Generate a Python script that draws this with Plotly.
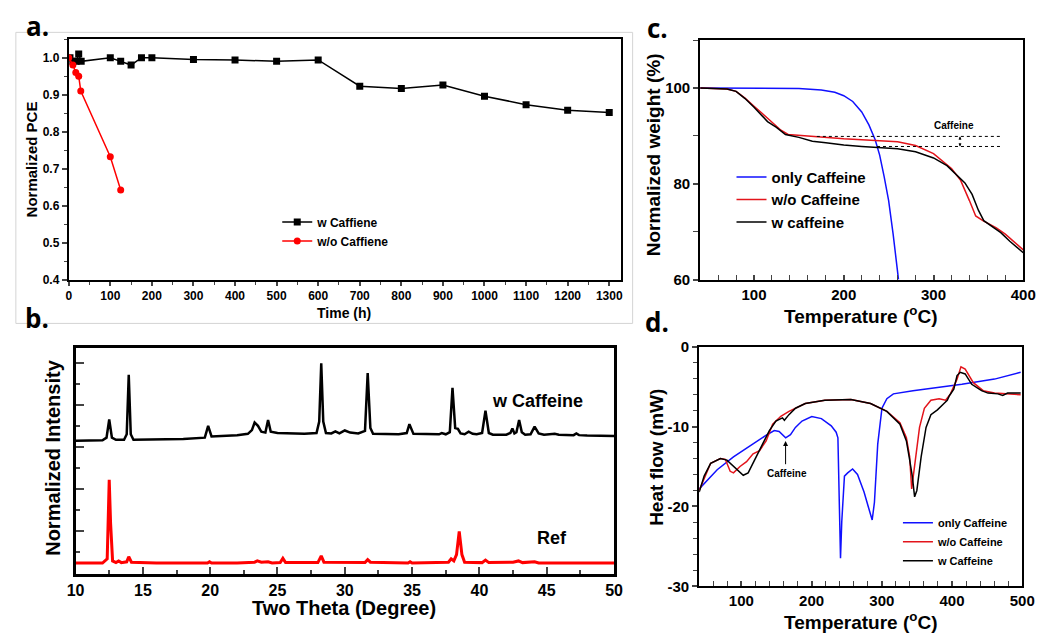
import plotly.graph_objects as go

W, H = 1048, 640
FONT = "Liberation Sans"

# ---------------- Panel a data ----------------
time_w = [3, 10, 18, 24, 30, 100, 125, 150, 175, 200, 300, 400, 500, 600, 700, 800, 900, 1000, 1100, 1200, 1300]
pce_w = [1.0, 0.99, 0.99, 1.01, 0.99, 1.0, 0.99, 0.98, 1.0, 1.0, 0.995, 0.994, 0.99, 0.994, 0.923, 0.917, 0.926, 0.896, 0.873, 0.858, 0.852]
time_wo = [0, 10, 17, 24, 29, 100, 125]
pce_wo = [1.0, 0.98, 0.96, 0.95, 0.91, 0.732, 0.642]

# ---------------- Panel b data ----------------
xrd_w_2theta = [10.0, 11.0, 12.0, 12.3, 12.5, 12.7, 13.0, 13.6, 13.8, 13.95, 14.1, 14.3, 16.0, 18.0, 19.6, 19.85,
                20.1, 21.0, 22.0, 22.8, 23.1, 23.3, 23.55, 23.8, 24.1, 24.3, 24.5, 25.0, 26.0, 27.0, 27.9, 28.1,
                28.25, 28.4, 28.6, 29.0, 29.3, 29.6, 30.0, 30.4, 31.0, 31.5, 31.7, 31.9, 32.1, 33.0, 34.0, 34.6,
                34.8, 35.1, 36.0, 37.0, 37.2, 37.5, 37.8, 38.0, 38.2, 38.4, 38.6, 38.9, 39.2, 39.5, 39.8, 40.2,
                40.45, 40.7, 41.0, 42.0, 42.3, 42.45, 42.6, 42.75, 42.95, 43.15, 43.4, 43.8, 44.1, 44.4, 44.8,
                45.6, 45.9, 46.3, 47.0, 47.2, 47.4, 48.0, 49.0, 50.0]
xrd_w_int = [3.15, 3.15, 3.16, 3.22, 3.65, 3.22, 3.17, 3.17, 3.30, 4.71, 3.30, 3.17, 3.18, 3.19, 3.22, 3.50,
             3.25, 3.26, 3.28, 3.31, 3.40, 3.58, 3.50, 3.36, 3.34, 3.64, 3.36, 3.33, 3.32, 3.31, 3.33, 3.60,
             4.98, 3.60, 3.33, 3.32, 3.37, 3.32, 3.39, 3.34, 3.32, 3.38, 4.75, 3.45, 3.31, 3.30, 3.30, 3.33,
             3.54, 3.31, 3.30, 3.30, 3.33, 3.30, 3.35, 4.40, 3.45, 3.43, 3.32, 3.30, 3.36, 3.31, 3.30, 3.33,
             3.86, 3.33, 3.29, 3.29, 3.33, 3.44, 3.32, 3.35, 3.64, 3.35, 3.29, 3.30, 3.48, 3.32, 3.29,
             3.31, 3.29, 3.28, 3.28, 3.32, 3.28, 3.27, 3.27, 3.26]
xrd_ref_2theta = [10.0, 12.0, 12.35, 12.5, 12.6, 12.75, 13.0, 13.2, 13.4, 13.8, 13.95, 14.15, 16.0, 19.8, 19.95,
                  20.1, 22.0, 23.3, 23.5, 23.8, 24.3, 24.6, 25.2, 25.4, 25.6, 28.0, 28.25, 28.45, 31.5, 31.7,
                  31.9, 34.7, 34.85, 35.0, 37.7, 37.9, 38.1, 38.3, 38.5, 38.7, 38.9, 40.2, 40.45, 40.7, 42.5,
                  42.9, 43.2, 44.1, 44.4, 50.0]
xrd_ref_int = [0.25, 0.25, 0.35, 2.22, 1.20, 0.30, 0.26, 0.30, 0.26, 0.28, 0.40, 0.27, 0.25, 0.25, 0.28,
               0.25, 0.25, 0.27, 0.30, 0.27, 0.28, 0.25, 0.26, 0.36, 0.26, 0.26, 0.42, 0.27, 0.26, 0.33,
               0.27, 0.25, 0.28, 0.25, 0.27, 0.35, 0.30, 0.45, 1.00, 0.45, 0.27, 0.26, 0.32, 0.26, 0.27,
               0.30, 0.26, 0.28, 0.25, 0.25]

# ---------------- Panel c data (TGA) ----------------
tga_caf_T = [40, 100, 150, 175, 190, 200, 210, 220, 228, 235, 240, 245, 250, 255, 258, 261]
tga_caf_w = [100, 100, 99.9, 99.6, 99.1, 98.4, 97.2, 95.0, 92.3, 89.2, 86.0, 81.5, 76.5, 69.5, 65.0, 60.0]
tga_wo_T = [40, 70, 80, 90, 100, 110, 120, 130, 138, 150, 170, 200, 230, 260, 280, 300, 320, 330, 340, 347,
            355, 370, 380, 390, 400]
tga_wo_w = [100, 99.8, 99.3, 97.9, 96.2, 94.5, 93.0, 91.2, 90.3, 90.1, 89.8, 89.4, 89.1, 88.8, 88.0, 86.3,
            83.2, 80.8, 76.5, 73.3, 72.3, 70.8, 69.5, 67.8, 66.2]
tga_w_T = [40, 70, 80, 90, 100, 108, 115, 125, 135, 150, 165, 180, 200, 220, 240, 260, 280, 300, 315, 325,
           335, 343, 350, 356, 365, 375, 385, 400]
tga_w_w = [100, 99.8, 99.3, 97.8, 96.0, 94.3, 93.0, 91.8, 90.3, 89.7, 88.9, 88.6, 88.1, 87.8, 87.6, 87.3,
           86.7, 85.4, 83.8, 82.0, 80.2, 77.8, 74.5, 72.3, 71.2, 69.8, 68.0, 65.6]
guide_upper_T = [170, 376]
guide_upper_w = [89.9, 89.9]
guide_lower_T = [237, 376]
guide_lower_w = [87.8, 87.8]

# ---------------- Panel d data (DSC) ----------------
dsc_caf_T = [40, 65.6, 88.8, 112, 135, 146.9, 153.8, 163.1, 170, 177, 186.4, 200.3, 214, 228, 235, 237.5,
             239.8, 241.2, 243, 246.8, 251.4, 258.4, 265.4, 274.7, 281.6, 286.3, 289.5, 294.2, 300.2, 307.2,
             316.5, 344.4, 414, 460.5, 497.7]
dsc_caf_hf = [-17.8, -15.4, -13.8, -12.4, -11.1, -10.5, -10.6, -11.4, -11.0, -10.1, -9.3, -8.75, -9.0, -9.9,
              -10.7, -11.4, -21.1, -26.5, -21.9, -16.2, -15.8, -15.3, -16.0, -18.2, -20.3, -21.7, -19.5,
              -12.2, -7.7, -6.5, -5.9, -5.5, -4.7, -4.05, -3.2]
dsc_wo_T = [40, 56.3, 70.2, 77.2, 84.1, 88.8, 98.1, 107.4, 116.7, 126, 135.3, 144.6, 156.2, 167.8, 191, 218.9,
            256, 284, 307.2, 325.8, 335, 339.7, 342.5, 344.4, 348.1, 353.7, 360.6, 369.9, 381.6, 390.8, 397.8,
            407.1, 412.7, 418.7, 430.3, 444.3, 460.5, 497.7]
dsc_wo_hf = [-18.0, -14.6, -14.0, -14.1, -15.6, -15.8, -15.0, -14.4, -13.4, -13.0, -11.8, -9.7, -8.7, -8.1,
             -7.1, -6.7, -6.6, -7.1, -8.1, -9.5, -11.4, -13.8, -17.8, -16.6, -13.8, -10.1, -7.7, -6.7, -6.5,
             -6.7, -5.9, -4.05, -2.5, -2.8, -4.5, -5.5, -5.8, -6.0]
dsc_w_T = [40, 47, 56.3, 70.2, 79.5, 93.4, 102.7, 109.7, 116.7, 128.3, 139.9, 149.2, 158.5, 161.3, 167.8,
           177.1, 191, 218.9, 256, 284, 307.2, 325.8, 335, 339.7, 343.4, 346.7, 349.9, 356, 363, 369.9, 379.2,
           388.5, 393.2, 396.4, 402.5, 407.1, 411.7, 418.7, 428, 442, 451.2, 465.2, 472.2, 479.1, 497.7]
dsc_w_hf = [-18.2, -16.2, -14.6, -14.0, -14.2, -15.4, -16.1, -15.8, -14.6, -12.6, -10.5, -9.3, -8.9, -9.2,
            -8.5, -7.7, -7.1, -6.7, -6.6, -7.1, -8.1, -9.7, -11.8, -14.2, -16.2, -18.8, -18.0, -13.8, -10.1,
            -8.5, -7.9, -7.1, -6.7, -6.1, -5.3, -3.6, -3.2, -3.4, -4.7, -5.5, -5.8, -5.9, -6.1, -5.8, -5.8]

BLACK, RED, BLUE = "#000000", "#ff0000", "#1010ff"


def px_x(p):
    return p / W


def px_y(p):
    return 1 - p / H


fig = go.Figure()

# Panel a
fig.add_trace(go.Scatter(x=time_w, y=pce_w, mode="lines+markers", name="w Caffiene",
                         line=dict(color=BLACK, width=1.5), marker=dict(symbol="square", size=7, color=BLACK),
                         xaxis="x", yaxis="y", legend="legend"))
fig.add_trace(go.Scatter(x=time_wo, y=pce_wo, mode="lines+markers", name="w/o Caffiene",
                         line=dict(color=RED, width=1.5), marker=dict(symbol="circle", size=7, color=RED),
                         xaxis="x", yaxis="y", legend="legend"))

# Panel b
fig.add_trace(go.Scatter(x=xrd_w_2theta, y=xrd_w_int, mode="lines", line=dict(color=BLACK, width=2.5),
                         showlegend=False, xaxis="x2", yaxis="y2"))
fig.add_trace(go.Scatter(x=xrd_ref_2theta, y=xrd_ref_int, mode="lines", line=dict(color=RED, width=3),
                         showlegend=False, xaxis="x2", yaxis="y2"))

# Panel c
fig.add_trace(go.Scatter(x=tga_caf_T, y=tga_caf_w, mode="lines", name="only Caffeine",
                         line=dict(color=BLUE, width=1.5), xaxis="x3", yaxis="y3", legend="legend2"))
fig.add_trace(go.Scatter(x=tga_wo_T, y=tga_wo_w, mode="lines", name="w/o Caffeine",
                         line=dict(color="#e3141b", width=1.5), xaxis="x3", yaxis="y3", legend="legend2"))
fig.add_trace(go.Scatter(x=tga_w_T, y=tga_w_w, mode="lines", name="w caffeine",
                         line=dict(color=BLACK, width=1.5), xaxis="x3", yaxis="y3", legend="legend2"))
fig.add_trace(go.Scatter(x=guide_upper_T, y=guide_upper_w, mode="lines", showlegend=False,
                         line=dict(color=BLACK, width=1, dash="dot"), xaxis="x3", yaxis="y3"))
fig.add_trace(go.Scatter(x=guide_lower_T, y=guide_lower_w, mode="lines", showlegend=False,
                         line=dict(color=BLACK, width=1, dash="dot"), xaxis="x3", yaxis="y3"))

# Panel d
fig.add_trace(go.Scatter(x=dsc_caf_T, y=dsc_caf_hf, mode="lines", name="only Caffeine",
                         line=dict(color=BLUE, width=1.5), xaxis="x4", yaxis="y4", legend="legend3"))
fig.add_trace(go.Scatter(x=dsc_wo_T, y=dsc_wo_hf, mode="lines", name="w/o Caffeine",
                         line=dict(color="#e3141b", width=1.5), xaxis="x4", yaxis="y4", legend="legend3"))
fig.add_trace(go.Scatter(x=dsc_w_T, y=dsc_w_hf, mode="lines", name="w Caffeine",
                         line=dict(color=BLACK, width=1.5), xaxis="x4", yaxis="y4", legend="legend3"))

bold = lambda s: dict(family=FONT, size=s, color="black", weight="bold")

common = dict(showgrid=False, zeroline=False, showline=True, linecolor="black", mirror=True)

layout = dict(
    width=W, height=H, margin=dict(l=0, r=0, t=0, b=0),
    paper_bgcolor="white", plot_bgcolor="white",
    font=dict(family=FONT, color="black"),
    # Panel a
    xaxis=dict(domain=[px_x(61), px_x(625)], range=[0, 1328], anchor="y", dtick=100, tick0=0,
               ticks="outside", ticklen=4, tickwidth=1.5, linewidth=2, tickfont=bold(12),
               minor=dict(dtick=50, ticks="outside", ticklen=3, tickwidth=1), **common),
    yaxis=dict(domain=[px_y(278), px_y(31)], range=[0.4, 1.05], anchor="x", dtick=0.1, tick0=0,
               tickformat=".1f", ticks="outside", ticklen=5, tickwidth=1.5, linewidth=2, tickfont=bold(12),
               minor=dict(dtick=0.05, ticks="outside", ticklen=3, tickwidth=1), **common),
    # Panel b
    xaxis2=dict(domain=[px_x(68), px_x(618)], range=[10, 50], anchor="y2", dtick=5, tick0=0,
                ticks="inside", ticklen=7, tickwidth=2, linewidth=3, tickfont=bold(16),
                minor=dict(dtick=2.5, ticks="inside", ticklen=4, tickwidth=2), **common),
    yaxis2=dict(domain=[px_y(580), px_y(348)], range=[0, 5.35], anchor="x2", dtick=1, tick0=0,
                ticks="inside", ticklen=8, tickwidth=2, linewidth=3, showticklabels=False,
                minor=dict(dtick=0.5, ticks="inside", ticklen=4, tickwidth=2), **common),
    # Panel c
    xaxis3=dict(domain=[px_x(706), px_x(1036)], range=[40, 400], anchor="y3", dtick=100, tick0=0,
                ticks="inside", ticklen=5, tickwidth=1.5, linewidth=2, tickfont=bold(15),
                minor=dict(dtick=20, ticks="inside", ticklen=5, tickwidth=1.2), **common),
    yaxis3=dict(domain=[px_y(278), px_y(32)], range=[60, 110], anchor="x3", dtick=20, tick0=0,
                ticks="outside", ticklen=5, tickwidth=1.5, linewidth=2, tickfont=bold(15),
                minor=dict(dtick=10, ticks="outside", ticklen=5, tickwidth=1.2), **common),
    # Panel d
    xaxis4=dict(domain=[px_x(705), px_x(1035)], range=[40, 500], anchor="y4", dtick=100, tick0=0,
                ticks="inside", ticklen=5, tickwidth=1.5, linewidth=2, tickfont=bold(15),
                minor=dict(dtick=20, ticks="inside", ticklen=5, tickwidth=1.2), **common),
    yaxis4=dict(domain=[px_y(593), px_y(347)], range=[-30, 0], anchor="x4",
                tickvals=[0, -10, -20, -30], ticktext=["0", "-10", "-20", "-30"],
                ticks="outside", ticklen=5, tickwidth=1.5, linewidth=2, tickfont=bold(15),
                minor=dict(dtick=2, ticks="outside", ticklen=4, tickwidth=1.2), **common),
    legend=dict(x=px_x(274), y=px_y(204), xanchor="left", yanchor="top", bgcolor="rgba(0,0,0,0)",
                font=bold(12), tracegroupgap=0, itemwidth=30),
    legend2=dict(x=px_x(738), y=px_y(156), xanchor="left", yanchor="top", bgcolor="rgba(0,0,0,0)",
                 font=bold(15), tracegroupgap=0, itemwidth=30),
    legend3=dict(x=px_x(908), y=px_y(513), xanchor="left", yanchor="top", bgcolor="rgba(0,0,0,0)",
                 font=bold(11), tracegroupgap=0, itemwidth=30),
)
fig.update_layout(**layout)

ann = []


def label(text, x, y, size, angle=0, fam=FONT):
    ann.append(dict(text=text, x=px_x(x), y=px_y(y), xref="paper", yref="paper", showarrow=False,
                    font=dict(family=fam, size=size, color="black", weight="bold"), textangle=angle,
                    xanchor="center", yanchor="middle"))


# panel letters
label("a.", 29, 17, 26, fam="Open Sans")
label("b.", 29, 317, 26, fam="Open Sans")
label("c.", 662, 20, 26, fam="Open Sans")
label("d.", 662, 322, 26, fam="Open Sans")
# axis titles
label("Normalized PCE", 23, 155, 15, -90)
label("Time (h)", 342, 312, 14)
label("Normalized Intensity", 45, 461, 20, -90)
label("Two Theta (Degree)", 342, 615, 20)
label("Normalized weight (%)", 658, 150, 19, -90)
label("Temperature (<sup>o</sup>C)", 870, 314, 19)
label("Heat flow (mW)", 662, 461, 19, -90)
label("Temperature (<sup>o</sup>C)", 870, 629, 19)

# panel b curve labels
ann.append(dict(text="w Caffeine", x=44.3, y=4.1, xref="x2", yref="y2", showarrow=False, font=bold(18)))
ann.append(dict(text="Ref", x=45.4, y=0.85, xref="x2", yref="y2", showarrow=False, font=bold(18)))

# panel c annotation
ann.append(dict(text="Caffeine", x=323, y=92.2, xref="x3", yref="y3", showarrow=False, font=bold(10)))
ann.append(dict(text="", x=329.5, y=89.9, ax=329.5, ay=88.85, xref="x3", yref="y3", axref="x3", ayref="y3",
                showarrow=True, arrowhead=2, arrowsize=0.6, arrowwidth=1, arrowcolor="black"))
ann.append(dict(text="", x=329.5, y=87.8, ax=329.5, ay=88.85, xref="x3", yref="y3", axref="x3", ayref="y3",
                showarrow=True, arrowhead=2, arrowsize=0.6, arrowwidth=1, arrowcolor="black"))

# panel d annotation
ann.append(dict(text="", x=163, y=-11.8, ax=163, ay=-14.9, xref="x4", yref="y4", axref="x4", ayref="y4",
                showarrow=True, arrowhead=2, arrowsize=1, arrowwidth=1, arrowcolor="black"))
ann.append(dict(text="Caffeine", x=165.5, y=-15.9, xref="x4", yref="y4", showarrow=False, font=bold(10)))

fig.update_layout(annotations=ann)

# light frame around panel a
fig.add_shape(type="rect", xref="paper", yref="paper", x0=px_x(7), x1=px_x(637), y0=px_y(323), y1=px_y(24),
              line=dict(color="#d4d4d4", width=1), layer="below")

fig.write_html("out.html")
